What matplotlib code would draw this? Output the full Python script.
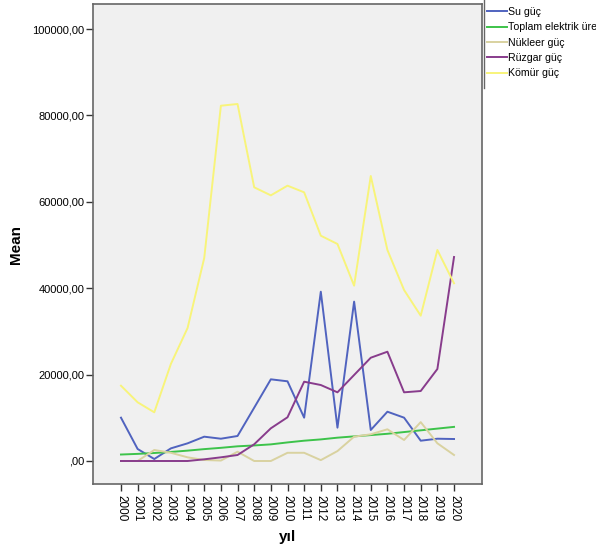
import matplotlib
matplotlib.use("Agg")
import matplotlib.pyplot as plt
from matplotlib.lines import Line2D
from matplotlib.ticker import FuncFormatter

plt.rcParams["font.family"] = ["Liberation Sans", "DejaVu Sans"]

years = list(range(2000, 2021))
su = [10030, 2780, 460, 2930, 4090, 5630, 5160, 5790, 12340, 18910, 18450,
      10030, 39200, 7710, 36900, 7180, 11410, 10030, 4700, 5160, 5090]
toplam = [1500, 1650, 1850, 2100, 2400, 2750, 3050, 3400, 3600, 3850, 4300,
          4700, 5000, 5400, 5700, 6000, 6300, 6700, 7100, 7500, 7900]
nukleer = [0, 0, 2550, 1900, 850, 230, 100, 2150, 0, 0, 1900,
           1900, 200, 2300, 5630, 6180, 7340, 4860, 9000, 4100, 1390]
ruzgar = [0, 0, 0, 0, 0, 390, 850, 1390, 3870, 7570, 10120,
          18360, 17590, 15900, 19910, 23910, 25300, 15900, 16200, 21300, 47230]
komur = [17430, 13590, 11270, 22500, 30800, 47000, 82250, 82650, 63360, 61500, 63740,
         62200, 52160, 50240, 40590, 65980, 48850, 39590, 33640, 48850, 41140]

# legend text is cut at the chart edge in the original
series = [
    ("Su güç", su, "#5063bf"),
    ("Toplam elektrik üre", toplam, "#3dc34a"),
    ("Nükleer güç", nukleer, "#d9d2a0"),
    ("Rüzgar güç", ruzgar, "#883c8c"),
    ("Kömür güç", komur, "#f8f47a"),
]

fig = plt.figure(figsize=(5.96, 5.51), dpi=100)
ax = fig.add_axes([93 / 596, 1 - 484 / 551, (482 - 93) / 596, (484 - 4) / 551])
ax.set_facecolor("#f0f0f0")

x = list(range(len(years)))
handles = []
for name, vals, color in series:
    h, = ax.plot(x, vals, color=color, lw=1.4, label=name)
    handles.append(h)

ax.set_xlim(-1.68, len(years) - 1 + 1.68)
ax.set_ylim(-5325, 105800)
ax.set_xticks(x)
ax.set_xticklabels([str(y) for y in years], rotation=270, fontsize=8.5)
ax.set_yticks(range(0, 100001, 20000))
ax.yaxis.set_major_formatter(FuncFormatter(lambda v, p: ",00" if v == 0 else f"{int(v)},00"))
ax.tick_params(axis="y", labelsize=8, length=5, width=1, color="#333333", pad=1)
ax.tick_params(axis="x", length=5, width=1, color="#333333", pad=3)
for s in ax.spines.values():
    s.set_color("#666666")
    s.set_linewidth(1.2)

ax.set_ylabel("Mean", fontsize=11, fontweight="bold", labelpad=7)
ax.set_xlabel("yıl", fontsize=11, fontweight="bold", labelpad=6)

fig.legend(handles=handles, loc="upper left", bbox_to_anchor=(485 / 596, 1 - 5 / 551),
           frameon=False, fontsize=7.6, handlelength=1.9, handletextpad=0.1,
           labelspacing=0.5, borderaxespad=0, borderpad=0.2)
fig.add_artist(Line2D([484 / 596, 484 / 596], [1, 1 - 88 / 551], color="#666666", lw=1,
                      transform=fig.transFigure))

fig.savefig("out.png", dpi=100)
